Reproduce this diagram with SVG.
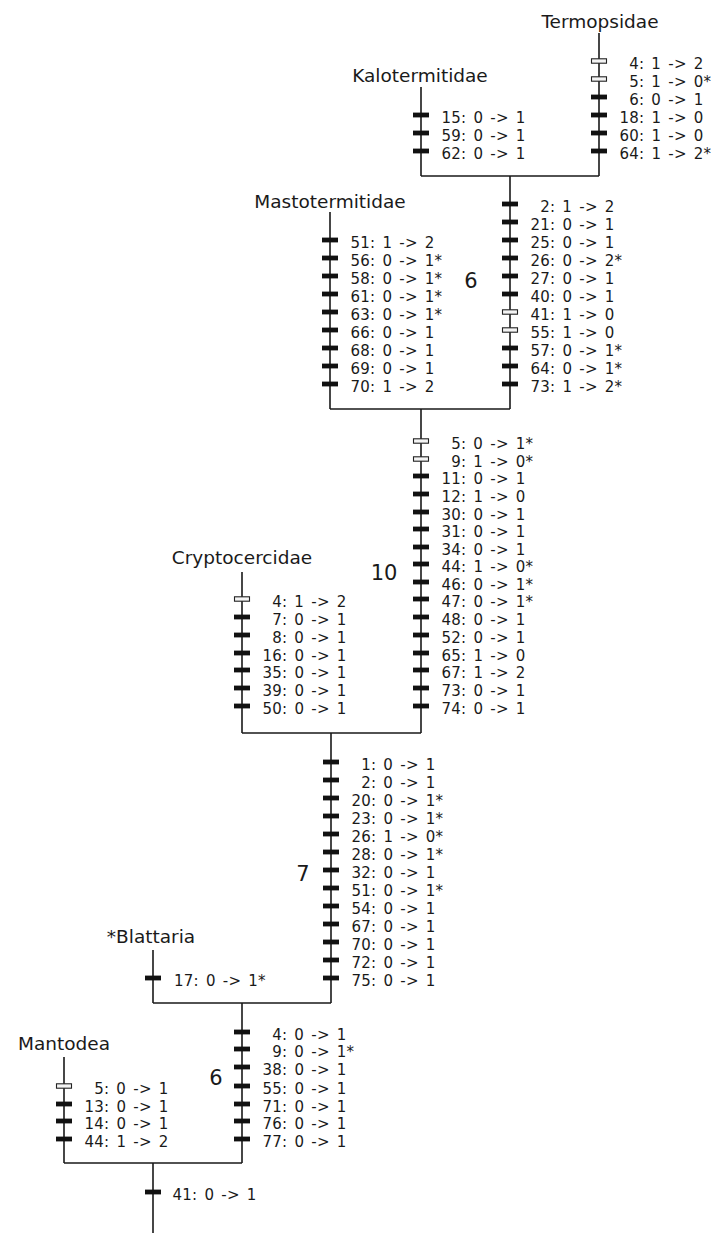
<svg xmlns="http://www.w3.org/2000/svg" xmlns:xlink="http://www.w3.org/1999/xlink" width="717" height="1233" viewBox="0 0 717 1233">
<style>
.ln{stroke:#1a1a1a;stroke-width:1.6;fill:none}
.c{font-family:"DejaVu Sans",sans-serif;font-size:15px;word-spacing:2.2px;letter-spacing:0.2px;fill:#1a1a1a}
.tx{font-family:"DejaVu Sans",sans-serif;font-size:18.5px;fill:#1a1a1a;text-anchor:middle}
.n{font-family:"DejaVu Sans",sans-serif;font-size:21px;fill:#1a1a1a;text-anchor:middle}
</style>
<defs>
<rect id="s" x="-8" y="-3.4" width="16" height="4.8" fill="#111"/>
<rect id="o" x="-7.5" y="-3.2" width="15" height="4.4" fill="#f4f4f4" stroke="#222" stroke-width="1.1"/>
</defs>
<rect width="717" height="1233" fill="#fff"/>
<g id="connectors">
<path class="ln" d="M599 33V176M421 87V176M421 176H599M510 176V409"/>
<path class="ln" d="M330 212V409M330 409H510M421 409V733"/>
<path class="ln" d="M242 572V733M242 733H421M331 733V1003"/>
<path class="ln" d="M153 950V1003M153 1003H331M242 1003V1163"/>
<path class="ln" d="M64 1057V1163M64 1163H242M153 1163V1233"/>
</g>
<g id="termopsidae">
<text class="tx" x="600" y="28">Termopsidae</text>
<use xlink:href="#o" x="599" y="62"/><use xlink:href="#o" x="599" y="80"/>
<use xlink:href="#s" x="599" y="98"/><use xlink:href="#s" x="599" y="116"/>
<use xlink:href="#s" x="599" y="134"/><use xlink:href="#s" x="599" y="152"/>
<text class="c" x="629.2" y="69">4: 1 -&gt; 2</text>
<text class="c" x="629.2" y="87">5: 1 -&gt; 0*</text>
<text class="c" x="629.2" y="105">6: 0 -&gt; 1</text>
<text class="c" x="619.5" y="123">18: 1 -&gt; 0</text>
<text class="c" x="619.5" y="141">60: 1 -&gt; 0</text>
<text class="c" x="619.5" y="159">64: 1 -&gt; 2*</text>
</g>
<g id="kalotermitidae">
<text class="tx" x="420" y="82">Kalotermitidae</text>
<use xlink:href="#s" x="421" y="116"/><use xlink:href="#s" x="421" y="134"/><use xlink:href="#s" x="421" y="152"/>
<text class="c" x="441.5" y="123">15: 0 -&gt; 1</text>
<text class="c" x="441.5" y="141">59: 0 -&gt; 1</text>
<text class="c" x="441.5" y="159">62: 0 -&gt; 1</text>
</g>
<g id="clade-termites">
<text class="n" x="471" y="288">6</text>
<use xlink:href="#s" x="510" y="205"/><use xlink:href="#s" x="510" y="223"/><use xlink:href="#s" x="510" y="241"/>
<use xlink:href="#s" x="510" y="259"/><use xlink:href="#s" x="510" y="277"/><use xlink:href="#s" x="510" y="295"/>
<use xlink:href="#o" x="510" y="313"/><use xlink:href="#o" x="510" y="331"/><use xlink:href="#s" x="510" y="349"/>
<use xlink:href="#s" x="510" y="367"/><use xlink:href="#s" x="510" y="385"/>
<text class="c" x="540.2" y="212">2: 1 -&gt; 2</text>
<text class="c" x="530.5" y="230">21: 0 -&gt; 1</text>
<text class="c" x="530.5" y="248">25: 0 -&gt; 1</text>
<text class="c" x="530.5" y="266">26: 0 -&gt; 2*</text>
<text class="c" x="530.5" y="284">27: 0 -&gt; 1</text>
<text class="c" x="530.5" y="302">40: 0 -&gt; 1</text>
<text class="c" x="530.5" y="320">41: 1 -&gt; 0</text>
<text class="c" x="530.5" y="338">55: 1 -&gt; 0</text>
<text class="c" x="530.5" y="356">57: 0 -&gt; 1*</text>
<text class="c" x="530.5" y="374">64: 0 -&gt; 1*</text>
<text class="c" x="530.5" y="392">73: 1 -&gt; 2*</text>
</g>
<g id="mastotermitidae">
<text class="tx" x="330" y="208">Mastotermitidae</text>
<use xlink:href="#s" x="330" y="241"/><use xlink:href="#s" x="330" y="259"/><use xlink:href="#s" x="330" y="277"/>
<use xlink:href="#s" x="330" y="295"/><use xlink:href="#s" x="330" y="313"/><use xlink:href="#s" x="330" y="331"/>
<use xlink:href="#s" x="330" y="349"/><use xlink:href="#s" x="330" y="367"/><use xlink:href="#s" x="330" y="385"/>
<text class="c" x="350.5" y="248">51: 1 -&gt; 2</text>
<text class="c" x="350.5" y="266">56: 0 -&gt; 1*</text>
<text class="c" x="350.5" y="284">58: 0 -&gt; 1*</text>
<text class="c" x="350.5" y="302">61: 0 -&gt; 1*</text>
<text class="c" x="350.5" y="320">63: 0 -&gt; 1*</text>
<text class="c" x="350.5" y="338">66: 0 -&gt; 1</text>
<text class="c" x="350.5" y="356">68: 0 -&gt; 1</text>
<text class="c" x="350.5" y="374">69: 0 -&gt; 1</text>
<text class="c" x="350.5" y="392">70: 1 -&gt; 2</text>
</g>
<g id="clade-10">
<text class="n" x="384" y="580">10</text>
<use xlink:href="#o" x="421" y="442"/><use xlink:href="#o" x="421" y="460"/>
<use xlink:href="#s" x="421" y="477"/><use xlink:href="#s" x="421" y="495"/><use xlink:href="#s" x="421" y="513"/>
<use xlink:href="#s" x="421" y="530"/><use xlink:href="#s" x="421" y="548"/><use xlink:href="#s" x="421" y="565"/>
<use xlink:href="#s" x="421" y="583"/><use xlink:href="#s" x="421" y="600"/><use xlink:href="#s" x="421" y="618"/>
<use xlink:href="#s" x="421" y="636"/><use xlink:href="#s" x="421" y="654"/><use xlink:href="#s" x="421" y="671"/>
<use xlink:href="#s" x="421" y="689"/><use xlink:href="#s" x="421" y="707"/>
<text class="c" x="451.2" y="449">5: 0 -&gt; 1*</text>
<text class="c" x="451.2" y="467">9: 1 -&gt; 0*</text>
<text class="c" x="441.5" y="484">11: 0 -&gt; 1</text>
<text class="c" x="441.5" y="502">12: 1 -&gt; 0</text>
<text class="c" x="441.5" y="520">30: 0 -&gt; 1</text>
<text class="c" x="441.5" y="537">31: 0 -&gt; 1</text>
<text class="c" x="441.5" y="555">34: 0 -&gt; 1</text>
<text class="c" x="441.5" y="572">44: 1 -&gt; 0*</text>
<text class="c" x="441.5" y="590">46: 0 -&gt; 1*</text>
<text class="c" x="441.5" y="607">47: 0 -&gt; 1*</text>
<text class="c" x="441.5" y="625">48: 0 -&gt; 1</text>
<text class="c" x="441.5" y="643">52: 0 -&gt; 1</text>
<text class="c" x="441.5" y="661">65: 1 -&gt; 0</text>
<text class="c" x="441.5" y="678">67: 1 -&gt; 2</text>
<text class="c" x="441.5" y="696">73: 0 -&gt; 1</text>
<text class="c" x="441.5" y="714">74: 0 -&gt; 1</text>
</g>
<g id="cryptocercidae">
<text class="tx" x="242" y="564">Cryptocercidae</text>
<use xlink:href="#o" x="242" y="600"/><use xlink:href="#s" x="242" y="618"/><use xlink:href="#s" x="242" y="636"/>
<use xlink:href="#s" x="242" y="654"/><use xlink:href="#s" x="242" y="671"/><use xlink:href="#s" x="242" y="689"/>
<use xlink:href="#s" x="242" y="707"/>
<text class="c" x="272.2" y="607">4: 1 -&gt; 2</text>
<text class="c" x="272.2" y="625">7: 0 -&gt; 1</text>
<text class="c" x="272.2" y="643">8: 0 -&gt; 1</text>
<text class="c" x="262.5" y="661">16: 0 -&gt; 1</text>
<text class="c" x="262.5" y="678">35: 0 -&gt; 1</text>
<text class="c" x="262.5" y="696">39: 0 -&gt; 1</text>
<text class="c" x="262.5" y="714">50: 0 -&gt; 1</text>
</g>
<g id="clade-7">
<text class="n" x="303" y="881">7</text>
<use xlink:href="#s" x="331" y="763"/><use xlink:href="#s" x="331" y="781"/><use xlink:href="#s" x="331" y="799"/>
<use xlink:href="#s" x="331" y="817"/><use xlink:href="#s" x="331" y="835"/><use xlink:href="#s" x="331" y="853"/>
<use xlink:href="#s" x="331" y="871"/><use xlink:href="#s" x="331" y="889"/><use xlink:href="#s" x="331" y="907"/>
<use xlink:href="#s" x="331" y="925"/><use xlink:href="#s" x="331" y="943"/><use xlink:href="#s" x="331" y="961"/>
<use xlink:href="#s" x="331" y="979"/>
<text class="c" x="361.2" y="770">1: 0 -&gt; 1</text>
<text class="c" x="361.2" y="788">2: 0 -&gt; 1</text>
<text class="c" x="351.5" y="806">20: 0 -&gt; 1*</text>
<text class="c" x="351.5" y="824">23: 0 -&gt; 1*</text>
<text class="c" x="351.5" y="842">26: 1 -&gt; 0*</text>
<text class="c" x="351.5" y="860">28: 0 -&gt; 1*</text>
<text class="c" x="351.5" y="878">32: 0 -&gt; 1</text>
<text class="c" x="351.5" y="896">51: 0 -&gt; 1*</text>
<text class="c" x="351.5" y="914">54: 0 -&gt; 1</text>
<text class="c" x="351.5" y="932">67: 0 -&gt; 1</text>
<text class="c" x="351.5" y="950">70: 0 -&gt; 1</text>
<text class="c" x="351.5" y="968">72: 0 -&gt; 1</text>
<text class="c" x="351.5" y="986">75: 0 -&gt; 1</text>
</g>
<g id="blattaria">
<text class="tx" x="151" y="943">*Blattaria</text>
<use xlink:href="#s" x="153" y="979"/>
<text class="c" x="174" y="986">17: 0 -&gt; 1*</text>
</g>
<g id="clade-6b">
<text class="n" x="216" y="1085">6</text>
<use xlink:href="#s" x="242" y="1033"/><use xlink:href="#s" x="242" y="1050"/><use xlink:href="#s" x="242" y="1068"/>
<use xlink:href="#s" x="242" y="1087"/><use xlink:href="#s" x="242" y="1105"/><use xlink:href="#s" x="242" y="1122"/>
<use xlink:href="#s" x="242" y="1140"/>
<text class="c" x="272.2" y="1040">4: 0 -&gt; 1</text>
<text class="c" x="272.2" y="1057">9: 0 -&gt; 1*</text>
<text class="c" x="262.5" y="1075">38: 0 -&gt; 1</text>
<text class="c" x="262.5" y="1094">55: 0 -&gt; 1</text>
<text class="c" x="262.5" y="1112">71: 0 -&gt; 1</text>
<text class="c" x="262.5" y="1129">76: 0 -&gt; 1</text>
<text class="c" x="262.5" y="1147">77: 0 -&gt; 1</text>
</g>
<g id="mantodea">
<text class="tx" x="64" y="1050">Mantodea</text>
<use xlink:href="#o" x="64" y="1087"/><use xlink:href="#s" x="64" y="1105"/><use xlink:href="#s" x="64" y="1122"/>
<use xlink:href="#s" x="64" y="1140"/>
<text class="c" x="94.2" y="1094">5: 0 -&gt; 1</text>
<text class="c" x="84.5" y="1112">13: 0 -&gt; 1</text>
<text class="c" x="84.5" y="1129">14: 0 -&gt; 1</text>
<text class="c" x="84.5" y="1147">44: 1 -&gt; 2</text>
</g>
<g id="root">
<use xlink:href="#s" x="153" y="1193"/>
<text class="c" x="172.5" y="1200">41: 0 -&gt; 1</text>
</g>
</svg>
